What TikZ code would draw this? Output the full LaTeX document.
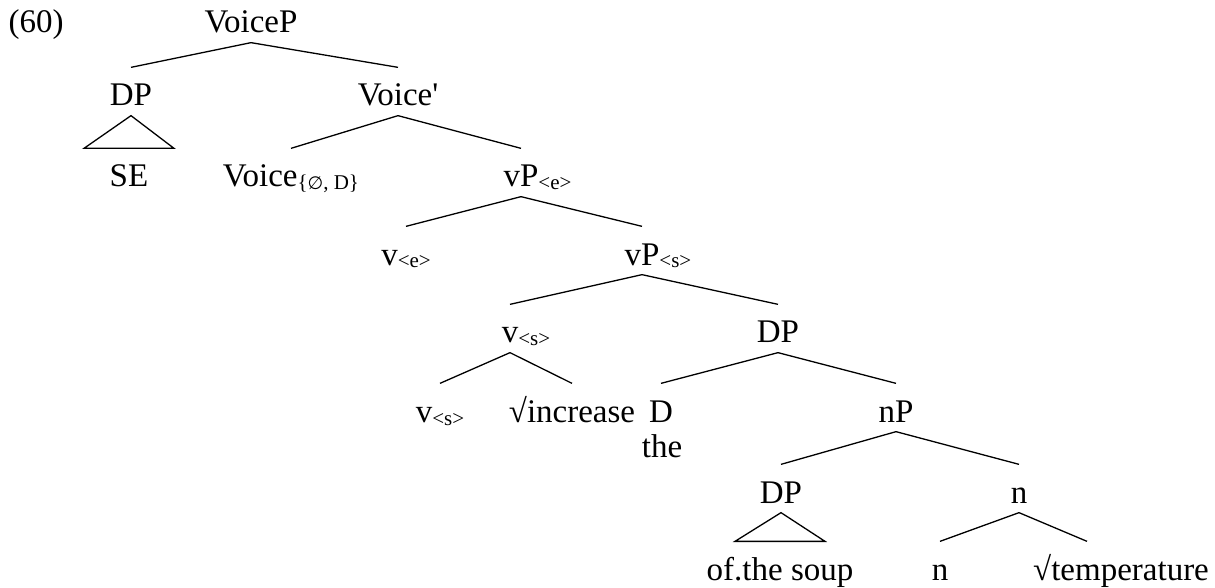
\documentclass[tikz,border=0pt]{standalone}
\usepackage{fontspec}
\setmainfont{Liberation Serif}
\newfontfamily\symbfont{DejaVu Sans}
\newcommand{\subs}[1]{{\fontsize{10.5}{12}\selectfont\raisebox{-1.5pt}{#1}}}
\tikzset{lab/.style={anchor=base, inner sep=1pt, text height=18pt, text depth=3.5pt, font=\fontsize{16.5}{19}\selectfont}}

\begin{document}
\begin{tikzpicture}[x=0.5pt,y=-0.5pt,line width=0.65pt]
\useasboundingbox (0,0) rectangle (1215,588);
\node[lab] (ex) at (36,33) {(60)};
\node[lab] (voicep) at (251,33) {VoiceP};
\node[lab] (dpse) at (131,106) {DP};
\node[lab] (voicebar) at (398,106) {Voice\textquotesingle};
\node[lab] (se) at (129,187) {SE};
\node[lab] (voice) at (291,187) {Voice\subs{\{{\symbfont\fontsize{9}{12}\selectfont ∅}, D\}}};
\node[lab] (vpe) at (521,187) {vP\rlap{\subs{<e>}}};
\node[lab] (ve) at (406,265) {v\subs{<e>}};
\node[lab] (vps) at (642,265) {vP\rlap{\subs{<s>}}};
\node[lab] (vs) at (510,343) {v\rlap{\subs{<s>}}};
\node[lab] (dpnp) at (778,343) {DP};
\node[lab] (vsleaf) at (440,422) {v\subs{<s>}};
\node[lab] (incr) at (572,422) {√increase};
\node[lab] (d) at (661,422) {D};
\node[lab] (the) at (662,457) {the};
\node[lab] (np) at (896,422) {nP};
\node[lab] (dpsoup) at (781,503) {DP};
\node[lab] (nbar) at (1019,503) {n};
\node[lab] (soup) at (780,580) {of.the soup};
\node[lab] (n) at (940,580) {n};
\node[lab] (temp) at (1121,580) {√temperature};

% branches
\draw (voicep.south) -- (dpse.north);
\draw (voicep.south) -- (voicebar.north);
\draw (dpse.south) -- ([xshift=-22.5pt]se.north) -- ([xshift=22.5pt]se.north) -- cycle;
\draw (voicebar.south) -- (voice.north);
\draw (voicebar.south) -- (vpe.north);
\draw (vpe.south) -- (ve.north);
\draw (vpe.south) -- (vps.north);
\draw (vps.south) -- (vs.north);
\draw (vps.south) -- (dpnp.north);
\draw (vs.south) -- (vsleaf.north);
\draw (vs.south) -- (incr.north);
\draw (dpnp.south) -- (d.north);
\draw (dpnp.south) -- (np.north);
\draw (np.south) -- (dpsoup.north);
\draw (np.south) -- (nbar.north);
\draw (dpsoup.south) -- ([xshift=-22.5pt]soup.north) -- ([xshift=22.5pt]soup.north) -- cycle;
\draw (nbar.south) -- (n.north);
\draw (nbar.south) -- ([xshift=-17pt]temp.north);
\end{tikzpicture}
\end{document}
